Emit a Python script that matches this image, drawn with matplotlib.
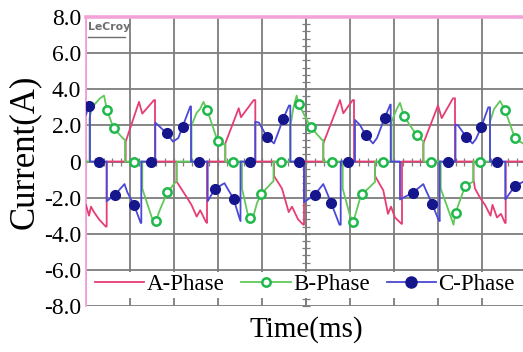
import numpy as np
import matplotlib
matplotlib.use("Agg")
import matplotlib.pyplot as plt
from matplotlib.lines import Line2D

# time axis in scope sample units (440 units across the 10 screen divisions)
a_t = [0, 3, 5, 8, 13, 19.7, 20.7, 20.7, 39.7, 39.7, 53, 56.3, 68, 69, 69, 90.5, 90.5, 101, 105.5, 110.7,
       114.2, 120, 121, 121, 139.3, 139.3, 152.7, 155, 167.7, 169.3, 169.3, 188, 188, 196, 202.7, 206, 212,
       217.3, 218, 218, 237.3, 237.3, 254, 257.3, 266.7, 268, 268, 289, 289, 297.3, 302, 305, 309, 315.5,
       316, 316, 337.3, 337.3, 352, 355.7, 367, 369, 369, 387.5, 387.5, 389, 394, 399, 404.5, 406.5, 411,
       415, 419, 419.7, 419.7, 437]
a_i = [-2.4, -3.0, -2.5, -2.8, -3.2, -3.6, -3.6, 0, 0, 1.1, 3.3, 2.65, 3.4, 3.4, 0, 0, -1.1, -2.0, -2.4, -3.05,
       -2.7, -3.35, -3.4, 0, 0, 1.0, 2.95, 2.45, 3.4, 3.4, 0, 0, -0.8, -1.5, -2.8, -2.5, -3.2,
       -3.5, -3.5, 0, 0, 1.0, 3.4, 2.67, 3.4, 3.4, 0, 0, -0.8, -1.6, -2.9, -2.5, -3.1, -3.45,
       -3.45, 0, 0, 1.0, 3.1, 2.4, 3.5, 3.5, 0, 0, -1.0, -1.5, -2.0, -2.4, -3.0, -2.4, -3.1,
       -2.9, -3.4, -3.4, 0, 0]

b_t = [0, 3.5, 3.5, 6, 14, 18, 21, 27.5, 37.5, 39, 39, 56.3, 56.3, 67, 70, 73, 81.3, 89.7, 90.7, 90.7,
       105.5, 105.5, 110.7, 114, 117.5, 121.2, 131.5, 137.3, 139.3, 139.3, 156, 156, 162.5, 166, 171, 175.3,
       186.5, 187.5, 187.5, 204.5, 204.5, 207.5, 210.7, 212.5, 224.7, 236, 237.3, 237.3, 256.7, 256.7, 264,
       267.3, 274, 276.3, 284, 288.5, 289, 289, 305.5, 305.5, 310.7, 314, 318, 330.7, 337.5, 337.5, 354.7,
       354.7, 365.7, 367.5, 369.5, 379, 386.5, 387.3, 387.3, 404, 404, 408, 414, 419, 429, 437]
b_i = [0, 0, 2.4, 3.0, 3.5, 3.65, 2.85, 1.85, 1.25, 1.2, 0, 0, -1.5, -3.3, -3.3, -2.8, -1.7, -1.13, -1.1, 0,
       0, 2.0, 2.7, 2.9, 3.3, 2.85, 1.15, 0.95, 0.95, 0, 0, -1.5, -3.1, -3.3, -2.3, -1.8,
       -1.13, -1.1, 0, 0, 2.0, 3.0, 3.65, 3.2, 1.9, 1.2, 1.2, 0, 0, -1.5, -3.0,
       -3.35, -2.05, -1.8, -1.4, -1.15, -1.13, 0, 0, 2.2, 2.9, 3.25, 2.5, 1.45, 1.1, 0, 0,
       -1.5, -3.2, -3.5, -2.85, -1.38, -1.13, -1.1, 0, 0, 2.2, 2.9, 3.35, 2.85, 1.28, 1.0]

c_t = [0, 3.3, 4, 4, 20.7, 20.7, 28.7, 38.5, 41.3, 48, 54.7, 55.3, 55.3, 69.3, 69.3, 72.3, 80.7, 87, 92.3,
       96.5, 104.3, 105, 105, 121.7, 121.7, 128.8, 138.5, 141, 147.5, 152.7, 154.5, 154.5, 169.3, 169.3,
       173, 180.8, 188, 191.5, 197.3, 203, 204.3, 204.3, 218, 218, 228.5, 237.3, 240, 245.2, 253.5, 254.7,
       254.7, 269, 269, 274, 279.8, 287, 291, 298.5, 304.3, 304.7, 304.7, 314, 314, 327, 337.3, 340, 346,
       352.3, 353.7, 353.7, 369.5, 369.5, 372, 380, 386.5, 390, 395.2, 402.3, 404, 404, 419.3, 419.3, 429,
       437]
c_i = [2.6, 3.1, 3.15, 0, 0, -2.2, -1.85, -1.25, -1.7, -2.4, -3.4, -3.4, 0, 0, 2.15, 2.0, 1.56, 1.1, 1.3,
       1.92, 3.05, 3.05, 0, 0, -2.2, -1.52, -1.2, -1.45, -2.05, -3.0, -3.3, 0, 0, 2.2,
       2.15, 1.38, 1.0, 1.5, 2.38, 3.1, 3.1, 0, 0, -2.25, -1.85, -1.25, -1.6, -2.3, -3.5, -3.5,
       0, 0, 2.3, 2.02, 1.45, 1.0, 1.3, 2.4, 3.15, 3.15, 0, 0, -2.1, -1.72, -1.25, -1.6, -2.33,
       -3.2, -3.3, 0, 0, 2.05, 2.0, 1.38, 1.0, 1.25, 1.9, 3.0, 3.0, 0, 0, -2.1, -1.35,
       -1.13]

# marker positions
b_mark_t = [21, 27.5, 48, 69.7, 81.3, 121.2, 131.5, 146.5, 164.3, 175.3, 195.3, 212.5, 224.7, 245.7,
            267.3, 276.3, 296.8, 318, 330.7, 344.5, 369.5, 379, 394, 419, 429]
b_mark_i = [2.85, 1.85, 0, -3.3, -1.7, 2.85, 1.15, 0, -3.15, -1.8, 0, 3.2, 1.9, 0,
            -3.35, -1.8, 0, 2.5, 1.45, 0, -2.85, -1.38, 0, 2.85, 1.28]
c_mark_t = [3.3, 13.3, 28.7, 48, 64.7, 80.7, 96.5, 113, 128.8, 147.5, 164.2, 180.8, 197.3, 213.3,
            228.5, 245.2, 262.3, 279.8, 298.5, 327, 345.8, 362.3, 380, 395.2, 410.5, 429]
c_mark_i = [3.1, 0, -1.85, -2.4, 0, 1.56, 1.92, 0, -1.52, -2.05, 0, 1.38, 2.38, 0,
            -1.85, -2.3, 0, 1.45, 2.4, -1.72, -2.33, 0, 1.38, 1.9, 0, -1.35]

y_ticks = [8, 6, 4, 2, 0, -2, -4, -6, -8]
y_labels = ["8.0", "6.0", "4.0", "2.0", "0", "-2.0", "-4.0", "-6.0", "-8.0"]
series_names = ["A-Phase", "B-Phase", "C-Phase"]

RED = "#e63d73"
GREEN = "#62c85a"
GREEN_M = "#1fb84a"
BLUE = "#4b48d6"
BLUE_M = "#16168c"
GRID = "#7d7d7d"
PINK = "#f3a3d8"

serif = ["Liberation Serif", "DejaVu Serif"]

fig = plt.figure(figsize=(5.23, 3.52), dpi=100)
pos = [86 / 523, 46 / 352, 440 / 523, 289 / 352]

# graticule centre axes (behind)
ax2 = fig.add_axes(pos)
ax2.set_zorder(0)
ax2.set_xlim(0, 440)
ax2.set_ylim(-8, 8)
for s in ["top", "right"]:
    ax2.spines[s].set_visible(False)
ax2.spines["left"].set_position(("data", 220))
ax2.spines["bottom"].set_position(("data", 0))
for s in ["left", "bottom"]:
    ax2.spines[s].set_color(GRID)
    ax2.spines[s].set_linewidth(1.3)
ax2.set_yticks(np.arange(-8, 8.01, 0.4))
ax2.set_xticks(np.arange(0, 440.1, 8.8))
ax2.tick_params(direction="inout", length=5.5, width=0.9, color=GRID,
                labelleft=False, labelbottom=False)

ax = fig.add_axes(pos)
ax.set_zorder(1)
ax.patch.set_visible(False)
ax.set_xlim(0, 440)
ax.set_ylim(-8, 8)
for s in ax.spines.values():
    s.set_visible(False)
ax.set_xticks(np.arange(0, 441, 44))
ax.set_xticklabels([])
ax.set_yticks(y_ticks)
ax.set_yticklabels(y_labels, fontfamily=serif, fontsize=17)
ax.tick_params(length=0, pad=3.5)
ax.grid(True, color=GRID, lw=1.3)
ax.set_axisbelow(True)

ax.axhline(8, color=PINK, lw=2.6, clip_on=False, zorder=3)
ax.axvline(0, color=PINK, lw=1.3, clip_on=False, zorder=3)

ax.plot(a_t, a_i, color=RED, lw=1.3, zorder=4)
ax.plot(b_t, b_i, color=GREEN, lw=1.3, zorder=4)
ax.plot(c_t, c_i, color=BLUE, lw=1.3, zorder=4)
ax.plot(b_mark_t, b_mark_i, ls="none", marker="o", ms=6, mfc="white", mec=GREEN_M, mew=1.8, zorder=5)
ax.plot(c_mark_t, c_mark_i, ls="none", marker="o", ms=7, mfc=BLUE_M, mec=BLUE_M, zorder=5)

ax.text(0.005, 0.983, "LeCroy", transform=ax.transAxes, fontsize=7.8, fontweight="bold",
        color="#6e6e6e", va="top", ha="left", family="DejaVu Sans", zorder=6)
ax.plot([0.005, 0.088], [0.932, 0.932], transform=ax.transAxes, color="#6e6e6e", lw=1.0, zorder=6)

handles = [
    Line2D([], [], color=RED, lw=1.3),
    Line2D([], [], color=GREEN, lw=1.3, marker="o", ms=6, mfc="white", mec=GREEN_M, mew=1.8),
    Line2D([], [], color=BLUE, lw=1.3, marker="o", ms=8, mfc=BLUE_M, mec=BLUE_M),
]
leg = ax.legend(handles, series_names, loc="center", bbox_to_anchor=(0.497, 0.073), ncol=3,
                prop={"family": serif, "size": 16.5}, frameon=True, fancybox=False,
                facecolor="white", edgecolor="none", framealpha=1, handlelength=2.15,
                handletextpad=0.1, columnspacing=0.75, borderpad=0.1, numpoints=1)
leg.set_zorder(7)

ax.set_xlabel("Time(ms)", fontfamily=serif, fontsize=21)
ax.xaxis.set_label_coords(0.5, -0.035)
ax.xaxis.label.set_va("top")
ax.set_ylabel("Current(A)", fontfamily=serif, fontsize=25)
ax.yaxis.set_label_coords(-0.14, 0.535)
ax.yaxis.label.set_va("center")

fig.savefig("out.png", dpi=100, facecolor="white")
